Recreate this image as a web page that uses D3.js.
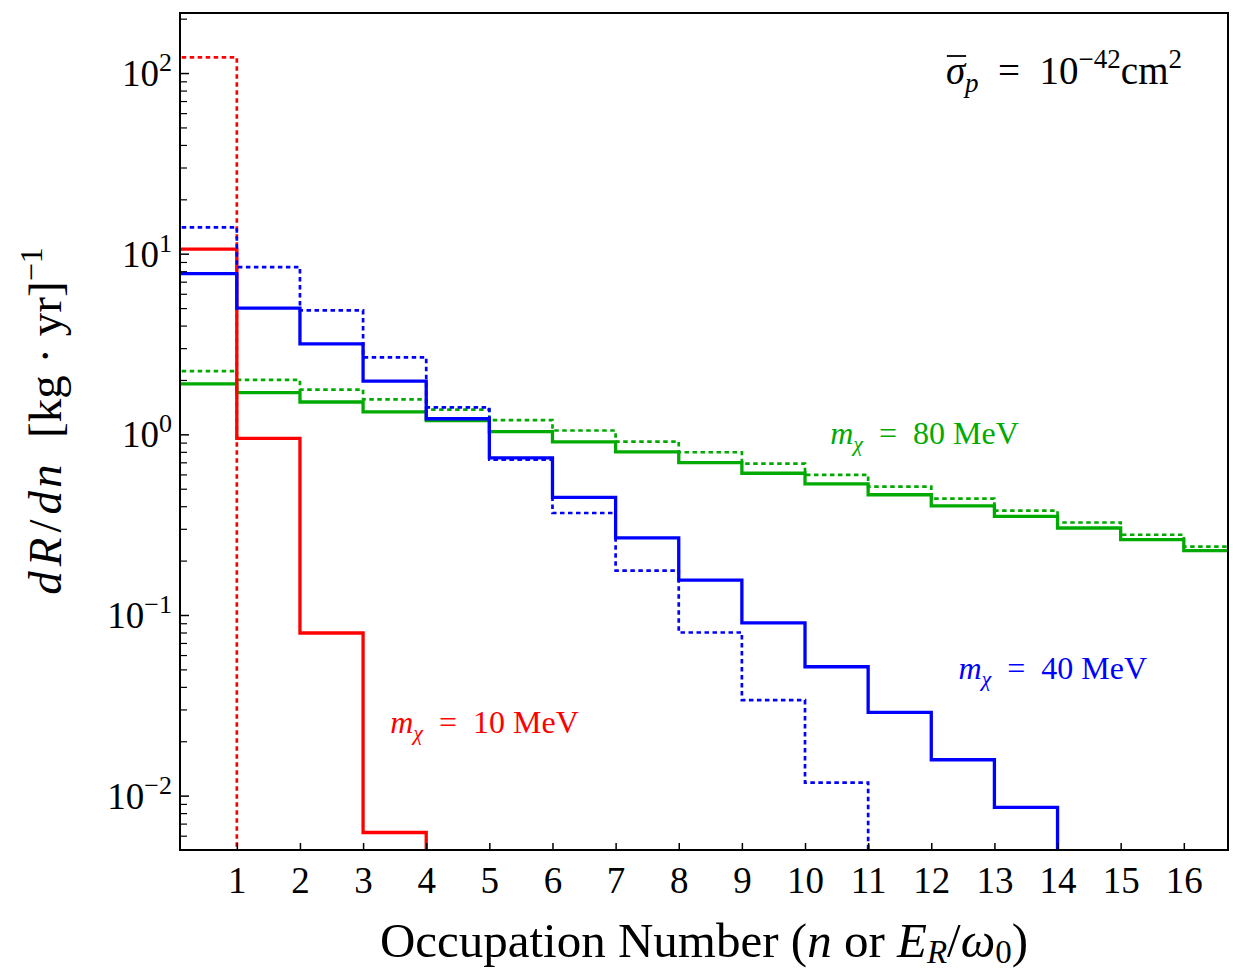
<!DOCTYPE html>
<html>
<head>
<meta charset="utf-8">
<script src="https://cdn.jsdelivr.net/npm/d3@7"></script>
<style>
  body { margin: 0; background: #fff; }
  text { font-family: "Liberation Serif", "DejaVu Serif", serif; fill: #000; }
</style>
</head>
<body>
<script>
// bin n covers [n-1, n]
var redSolid   = [10.6, 0.95, 0.0795, 0.00625];
var redDotted  = [122];
var blueSolid  = [7.75, 5.0, 3.17, 1.97, 1.22, 0.74, 0.448, 0.267, 0.156, 0.0905, 0.0517, 0.0289, 0.0158, 0.0086];
var blueDotted = [14.0, 8.43, 4.85, 2.67, 1.41, 0.725, 0.367, 0.176, 0.080, 0.0338, 0.0118];
var greenSolid = [1.905, 1.70, 1.51, 1.33, 1.19, 1.035, 0.909, 0.800, 0.698, 0.609, 0.532, 0.463, 0.402, 0.351, 0.303, 0.261, 0.227];
var greenDotted= [2.24, 2.0, 1.77, 1.56, 1.37, 1.20, 1.05, 0.912, 0.796, 0.689, 0.597, 0.514, 0.441, 0.378, 0.325, 0.278, 0.239];

var xTicks = d3.range(1, 17);
var yMajor = [1e-2, 1e-1, 1e0, 1e1, 1e2];
var yExp = ["\u22122", "\u22121", "0", "1", "2"];

var labels = [
  {mass: "80", x: 10.40, y: 0.889, color: "#00aa00"},
  {mass: "40", x: 12.43, y: 0.0444, color: "#0000ff"},
  {mass: "10", x: 3.43, y: 0.0223, color: "#ff0000"}
];

var width = 1233, height = 970;
var margin = {left: 180, top: 13, right: 5, bottom: 120};
var w = width - margin.left - margin.right;
var h = height - margin.top - margin.bottom;

var svg = d3.select("body").append("svg")
  .attr("width", width)
  .attr("height", height);

var g = svg.append("g")
  .attr("transform", "translate(" + margin.left + "," + margin.top + ")");

var x = d3.scaleLinear().domain([0.1, 16.7]).range([0, w]);
var y = d3.scaleLog().domain([0.005, 215]).range([h, 0]);

svg.append("defs").append("clipPath").attr("id", "clip")
  .append("rect").attr("width", w).attr("height", h);

// step line from bin values; drop to bottom after last bin
var line = d3.line()
  .x(function(d) { return x(d[0]); })
  .y(function(d) { return y(d[1]); })
  .curve(d3.curveStepAfter);

function stepPoints(vals, drop) {
  var pts = vals.map(function(v, i) { return [i, v]; });
  var last = vals.length;
  pts.push([last, vals[last - 1]]);
  if (drop) pts.push([last, y.domain()[0] * 0.5]);
  return pts;
}

var series = [
  {vals: greenDotted, color: "#00aa00", dotted: true,  drop: false},
  {vals: greenSolid,  color: "#00aa00", dotted: false, drop: false},
  {vals: redDotted,   color: "#ff0000", dotted: true,  drop: true},
  {vals: redSolid,    color: "#ff0000", dotted: false, drop: true},
  {vals: blueDotted,  color: "#0000ff", dotted: true,  drop: true},
  {vals: blueSolid,   color: "#0000ff", dotted: false, drop: true}
];

var plot = g.append("g").attr("clip-path", "url(#clip)");
series.forEach(function(s) {
  plot.append("path")
    .attr("d", line(stepPoints(s.vals, s.drop)))
    .attr("fill", "none")
    .attr("stroke", s.color)
    .attr("stroke-width", s.dotted ? 2.7 : 3.3)
    .attr("stroke-dasharray", s.dotted ? "4.5,3.5" : null);
});

// x axis ticks (inward)
var xAxis = g.append("g")
  .attr("transform", "translate(0," + h + ")")
  .call(d3.axisBottom(x).tickValues(xTicks).tickSize(-7).tickPadding(17).tickFormat(d3.format("d")));
xAxis.select(".domain").remove();
xAxis.selectAll(".tick line").attr("stroke", "#000").attr("stroke-width", 1.5);
xAxis.selectAll(".tick text").style("font-size", "37px").attr("dy", "0.71em");

// y axis minor + major ticks (inward)
var yMinor = [];
[-3, -2, -1, 0, 1, 2].forEach(function(e) {
  for (var k = 2; k <= 9; k++) {
    var v = k * Math.pow(10, e);
    if (v > y.domain()[0] && v < y.domain()[1]) yMinor.push(v);
  }
});
var yAxisMinor = g.append("g")
  .call(d3.axisLeft(y).tickValues(yMinor).tickSize(-7).tickFormat(""));
yAxisMinor.select(".domain").remove();
yAxisMinor.selectAll(".tick line").attr("stroke", "#000").attr("stroke-width", 1.2);

var yAxis = g.append("g")
  .call(d3.axisLeft(y).tickValues(yMajor).tickSize(-9).tickFormat(""));
yAxis.select(".domain").remove();
yAxis.selectAll(".tick line").attr("stroke", "#000").attr("stroke-width", 1.5);

yMajor.forEach(function(v, i) {
  var t = g.append("text")
    .attr("x", -8)
    .attr("y", y(v) + 13)
    .attr("text-anchor", "end")
    .style("font-size", "37px");
  t.append("tspan").text("10");
  t.append("tspan").attr("dy", -15).style("font-size", "26px").text(yExp[i]);
});

// frame
g.append("rect")
  .attr("width", w).attr("height", h)
  .attr("fill", "none").attr("stroke", "#000").attr("stroke-width", 2);

// series labels
labels.forEach(function(l) {
  var t = g.append("text")
    .attr("x", x(l.x)).attr("y", y(l.y))
    .style("font-size", "32px")
    .style("fill", l.color);
  t.append("tspan").style("font-style", "italic").text("m");
  t.append("tspan").attr("dy", 7).style("font-style", "italic").style("font-size", "22px").text("\u03c7");
  t.append("tspan").attr("dy", -7).text("\u2002=\u2002" + l.mass + " MeV");
});

// cross-section annotation
var ann = g.append("text")
  .attr("x", 1002).attr("y", 71)
  .attr("text-anchor", "end")
  .style("font-size", "39px");
ann.append("tspan").style("font-style", "italic").text("\u03c3");
ann.append("tspan").attr("dy", 8).style("font-style", "italic").style("font-size", "27px").text("p");
ann.append("tspan").attr("dy", -8).text("\u2002=\u200210");
ann.append("tspan").attr("dy", -16).style("font-size", "27px").text("\u221242");
ann.append("tspan").attr("dy", 16).text("cm");
ann.append("tspan").attr("dy", -16).style("font-size", "27px").text("2");
var sb = ann.node().getExtentOfChar(0);
g.append("line")
  .attr("x1", sb.x + 1).attr("x2", sb.x + sb.width + 1)
  .attr("y1", sb.y + 7).attr("y2", sb.y + 7)
  .attr("stroke", "#000").attr("stroke-width", 1.8);

// axis titles
var xl = svg.append("text")
  .attr("x", 704).attr("y", 957)
  .attr("text-anchor", "middle")
  .style("font-size", "49px");
xl.append("tspan").text("Occupation Number (");
xl.append("tspan").style("font-style", "italic").text("n");
xl.append("tspan").text(" or ");
xl.append("tspan").style("font-style", "italic").text("E");
xl.append("tspan").attr("dy", 6).style("font-style", "italic").style("font-size", "33px").text("R");
xl.append("tspan").attr("dy", -6).text("/");
xl.append("tspan").style("font-style", "italic").text("\u03c9");
xl.append("tspan").attr("dy", 6).style("font-size", "33px").text("0");
xl.append("tspan").attr("dy", -6).text(")");

var yl = svg.append("text")
  .attr("transform", "translate(61,421) rotate(-90)")
  .attr("text-anchor", "middle")
  .style("font-size", "47px");
yl.append("tspan").style("font-style", "italic").style("letter-spacing", "5px").text("dR");
yl.append("tspan").style("letter-spacing", "5px").text("/");
yl.append("tspan").style("font-style", "italic").style("letter-spacing", "3px").text("dn");
yl.append("tspan").attr("xml:space", "preserve").text("\u2002[kg \u00b7 yr]");
yl.append("tspan").attr("dy", -19).style("font-size", "32px").text("\u22121");
</script>
</body>
</html>
